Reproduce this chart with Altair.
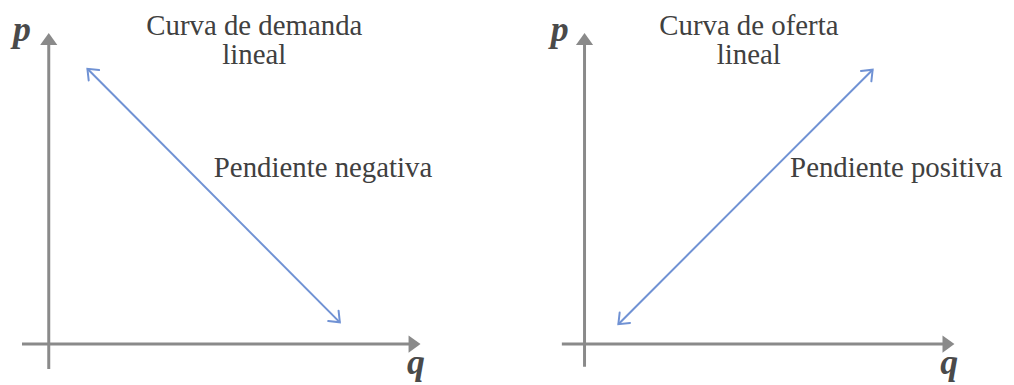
import altair as alt
import pandas as pd
import numpy as np

# ---------------- data ----------------
# axis extents per panel (origin at q=0, p=0)
axis_q_start = [-0.72, -0.61]
axis_q_tip = [10.0, 9.95]
axis_p_start = [-0.80, -0.73]
axis_p_tip = [10.0, 10.0]

# linear curve endpoints
curve_q = [[1.04, 7.83], [0.91, 7.75]]
curve_p = [[8.85, 0.70], [0.64, 8.82]]

# text labels
title_text = ["Curva de demanda\nlineal", "Curva de oferta\nlineal"]
title_q = [5.53, 4.42]
title_p = 9.94
slope_text = ["Pendiente negativa", "Pendiente positiva"]
slope_q = [4.44, 5.53]
slope_p = 5.37
p_label_q = [-0.72, -0.67]
p_label_p = 9.74
q_label_q = [9.88, 9.81]
q_label_p = -0.96

# ---------------- layout / style ----------------
W, H = 1004, 377
# each panel has its own q scale spanning the whole width (origin of panel 1
# at 41 px, of panel 2 at 580 px, 37.4 px per unit)
x_domains = [[-1.0963, 25.749], [-15.508, 11.337]]
y_domain = [-1.278, 10.767]

GRAY = "#8a8a8a"
BLUE = "#7092d4"
TEXT = "#404040"
FONT = "Liberation Serif"

HEAD = "M0,0L-0.72,1L0.72,1Z"      # filled triangle, tip at the anchor
CHEVRON = "M-0.8,1L0,0L0.8,1"       # open arrow head, tip at the anchor


def panel(i):
    xs = alt.Scale(domain=x_domains[i], nice=False, zero=False)
    ys = alt.Scale(domain=y_domain, nice=False, zero=False)
    sx = W / (x_domains[i][1] - x_domains[i][0])
    sy = H / (y_domain[1] - y_domain[0])
    X = alt.X("q:Q", scale=xs, axis=None)
    Y = alt.Y("p:Q", scale=ys, axis=None)

    axes = pd.DataFrame({
        "q": [axis_q_start[i], 0.0],
        "p": [0.0, axis_p_start[i]],
        "q2": [axis_q_tip[i] - 8 / sx, 0.0],
        "p2": [0.0, axis_p_tip[i] - 8 / sy],
    })
    rules = alt.Chart(axes).mark_rule(color=GRAY, strokeWidth=3).encode(
        x=X, y=Y, x2="q2:Q", y2="p2:Q"
    )
    heads = pd.DataFrame({
        "q": [axis_q_tip[i], 0.0],
        "p": [0.0, axis_p_tip[i]],
        "angle": [90, 0],
    })
    axis_heads = alt.Chart(heads).mark_point(
        shape=HEAD, filled=True, size=576, color=GRAY, opacity=1, strokeWidth=0
    ).encode(x=X, y=Y, angle=alt.Angle("angle:Q", scale=None))

    cq, cp = curve_q[i], curve_p[i]
    line_df = pd.DataFrame({"q": cq, "p": cp, "o": [0, 1]})
    line = alt.Chart(line_df).mark_line(color=BLUE, strokeWidth=2).encode(
        x=X, y=Y, order="o:Q"
    )
    dx = (cq[1] - cq[0]) * sx
    dy = -(cp[1] - cp[0]) * sy
    a_end = float(np.degrees(np.arctan2(dx, -dy))) % 360
    a_start = (a_end + 180) % 360
    ch_df = pd.DataFrame({"q": cq, "p": cp, "angle": [a_start, a_end]})
    chev = alt.Chart(ch_df).mark_point(
        shape=CHEVRON, filled=False, size=340, color=BLUE, opacity=1,
        strokeWidth=2, strokeCap="round"
    ).encode(x=X, y=Y, angle=alt.Angle("angle:Q", scale=None))

    t_df = pd.DataFrame({"q": [title_q[i]], "p": [title_p], "t": [title_text[i]]})
    titles = alt.Chart(t_df).mark_text(
        font=FONT, fontSize=29, color=TEXT, align="center", baseline="alphabetic",
        lineBreak="\n", lineHeight=29
    ).encode(x=X, y=Y, text="t:N")
    s_df = pd.DataFrame({"q": [slope_q[i]], "p": [slope_p], "t": [slope_text[i]]})
    slope = alt.Chart(s_df).mark_text(
        font=FONT, fontSize=29, color=TEXT, align="left", baseline="alphabetic"
    ).encode(x=X, y=Y, text="t:N")
    v_df = pd.DataFrame({
        "q": [p_label_q[i], q_label_q[i]],
        "p": [p_label_p, q_label_p],
        "t": ["p", "q"],
    })
    var_labels = alt.Chart(v_df).mark_text(
        font=FONT, fontSize=36, fontStyle="italic", fontWeight="bold",
        color="#4a4a4a", align="center", baseline="alphabetic"
    ).encode(x=X, y=Y, text="t:N")

    return [rules, axis_heads, line, chev, titles, slope, var_labels]


chart = alt.layer(*(panel(0) + panel(1))).resolve_scale(
    x="independent"
).properties(
    width=W, height=H, padding=0,
    autosize=alt.AutoSizeParams(type="none"),
).configure_view(stroke=None)

chart.save("out.html", embed_options={"renderer": "svg", "actions": False})
